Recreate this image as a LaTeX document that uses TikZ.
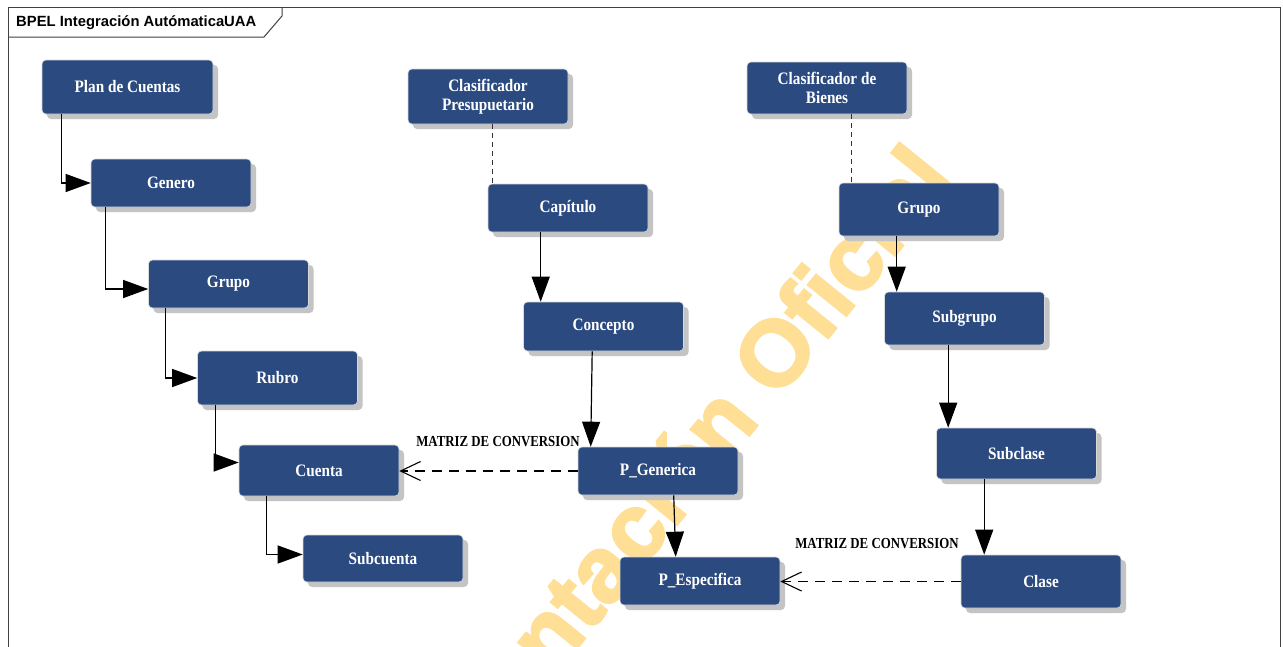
\documentclass[tikz,border=0pt]{standalone}
\usepackage{fontspec}
\usetikzlibrary{arrows.meta,shadows,calc}
\newfontfamily\nfont[FakeStretch=0.87]{Liberation Serif}
\newfontfamily\lfont[FakeStretch=0.84]{Liberation Serif}
\newfontfamily\tfont{Liberation Sans}
\newfontfamily\wfont[FakeBold=2.5]{Liberation Sans}
\definecolor{nodeblue}{HTML}{2A4A80}
\definecolor{wmark}{RGB}{255,222,150}
\definecolor{shadowgray}{RGB}{196,196,196}
\begin{document}
\begin{tikzpicture}[x=1pt,y=-1pt,
  box/.style={rectangle, rounded corners=4pt, fill=nodeblue, draw=white!85!black, line width=0.6pt,
    text=white, font=\nfont\bfseries\fontsize{17.5}{19}\selectfont, minimum width=160pt, inner sep=0pt,
    align=center, drop shadow={shadow xshift=5pt, shadow yshift=-5pt, fill=shadowgray, opacity=1}},
  solidarrow/.style={draw=black, line width=1.2pt, -{Triangle[length=25pt,width=18pt]}},
  convarrow/.style={draw=black, line width=1.1pt, dash pattern=on 10pt off 7pt, -{Straight Barb[length=20pt,width=19pt]}},
  dotline/.style={draw=black!80, line width=1.2pt, dash pattern=on 5pt off 4pt},
  convlabel/.style={font=\lfont\bfseries\fontsize{15.3}{17}\selectfont, text=black, inner sep=0pt},
  frameline/.style={draw=black!75, line width=1pt}
]
\useasboundingbox (0,0) rectangle (1283,646);
\clip (0,0) rectangle (1283,646);
\fill[white] (0,0) rectangle (1283,646);

% watermark
\node[rotate=51, text=wmark, font=\wfont\bfseries\fontsize{93}{93}\selectfont, inner sep=0pt] (wmtext) at (712,428) {entación Oficial};

% frame
\draw[frameline] (8,680) -- (8,7) -- (1280,7) -- (1280,680);
\draw[frameline] (8,37) -- (264,37) -- (282,16) -- (282,7);
\node[anchor=west, font=\tfont\bfseries\fontsize{14.8}{16}\selectfont, inner sep=0pt] (title) at (16,22.5) {BPEL Integración AutómaticaUAA};

% nodes
\node[box, minimum width=171pt, minimum height=54pt] (plan) at (127.5,87) {Plan de Cuentas};
\node[box, minimum height=48pt] (genero) at (171,183) {Genero};
\node[box, minimum height=48pt] (grupoL) at (228.5,284) {Grupo};
\node[box, minimum height=54pt] (rubro) at (277.5,378) {Rubro};
\node[box, minimum height=51pt] (cuenta) at (319,470.5) {Cuenta};
\node[box, minimum height=47pt] (subcuenta) at (383,558.5) {Subcuenta};

\node[box, minimum height=55pt] (clasP) at (488,96.5) {Clasificador\\Presupuetario};
\node[box, minimum height=48pt] (capitulo) at (568,208) {Capítulo};
\node[box, minimum height=49pt] (concepto) at (603.5,326.5) {Concepto};
\node[box, minimum height=48pt] (pgen) at (658,471) {P\_Generica};
\node[box, minimum height=48pt] (pesp) at (700,581) {P\_Especifica};

\node[box, minimum height=52pt] (clasB) at (827,88) {Clasificador de\\Bienes};
\node[box, minimum height=53pt] (grupoR) at (919,209.5) {Grupo};
\node[box, minimum height=53pt] (subgrupo) at (964.5,318.5) {Subgrupo};
\node[box, minimum height=51pt] (subclase) at (1016.5,453.5) {Subclase};
\node[box, minimum height=53pt] (clase) at (1041,581.5) {Clase};

% left column elbows
\draw[solidarrow] ([xshift=20pt]plan.south west) |- (genero.west);
\draw[solidarrow] ([xshift=15pt]genero.south west) |- ([yshift=-5pt]grupoL.west);
\draw[solidarrow] ([xshift=17pt]grupoL.south west) |- (rubro.west);
\draw[solidarrow] ([xshift=18pt]rubro.south west) |- ([yshift=8pt]cuenta.west);
\draw[solidarrow] ([xshift=28pt]cuenta.south west) |- ([yshift=4pt]subcuenta.west);

% middle column
\draw[dotline] ([xshift=85pt]clasP.south west) -- ([xshift=85pt]clasP.south west |- capitulo.north);
\draw[solidarrow] ([xshift=53pt]capitulo.south west) -- ([xshift=53pt]capitulo.south west |- concepto.north);
\draw[solidarrow] ([xshift=69pt]concepto.south west) -- ([xshift=13pt]pgen.north west);
\draw[solidarrow] ([xshift=96pt]pgen.south west) -- ([xshift=56pt]pesp.north west);

% right column
\draw[dotline] ([xshift=105pt]clasB.south west) -- ([xshift=105pt]clasB.south west |- grupoR.north);
\draw[solidarrow] ([xshift=58pt]grupoR.south west) -- ([xshift=58pt]grupoR.south west |- subgrupo.north);
\draw[solidarrow] ([xshift=64pt]subgrupo.south west) -- ([xshift=64pt]subgrupo.south west |- subclase.north);
\draw[solidarrow] ([xshift=48pt]subclase.south west) -- ([xshift=48pt]subclase.south west |- clase.north);

% conversion links
\draw[convarrow] (pgen.west) -- (pgen.west -| cuenta.east);
\draw[convarrow] (clase.west) -- (clase.west -| pesp.east);
\node[convlabel] (lbl1) at (498,442) {MATRIZ DE CONVERSION};
\node[convlabel] (lbl2) at (877,544) {MATRIZ DE CONVERSION};
\end{tikzpicture}
\end{document}
